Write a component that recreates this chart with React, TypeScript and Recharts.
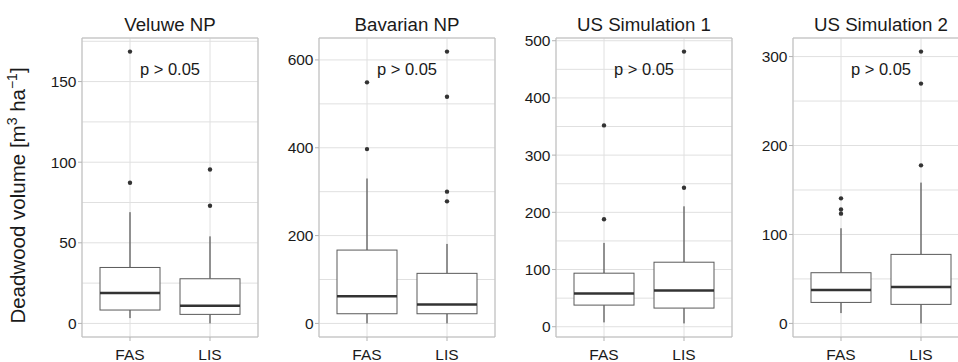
import React from 'react';
import { ComposedChart, Bar, Scatter, XAxis, YAxis, CartesianGrid, ReferenceArea } from 'recharts';

const groups = ['FAS', 'LIS'];
const panelTitles = ['Veluwe NP', 'Bavarian NP', 'US Simulation 1', 'US Simulation 2'];

// per group: [whiskerLow, q1, median, q3, whiskerHigh]
const veluweStats = [[3.3, 8.3, 18.8, 34.7, 69], [0, 5.6, 11, 27.7, 54]];
const veluweOutliers = [[168.6, 87.2], [95.5, 73]];
const bavarianStats = [[0, 22, 62, 167, 330], [0, 22, 43, 114, 181]];
const bavarianOutliers = [[549, 397], [619, 516, 300, 278]];
const us1Stats = [[7.6, 37.8, 58, 93.6, 146.5], [5.8, 32.6, 63.4, 112.8, 210.5]];
const us1Outliers = [[352, 188], [481, 243]];
const us2Stats = [[11.6, 23.6, 37.5, 57, 107], [0, 21.4, 40.8, 77.6, 158.3]];
const us2Outliers = [[140.6, 128, 123.4], [305.6, 269.6, 177.7]];

const majorTicks = [[0, 50, 100, 150], [0, 200, 400, 600], [0, 100, 200, 300, 400, 500], [0, 100, 200, 300]];
const minorTicks = [[25, 75, 125, 175], [100, 300, 500], [50, 150, 250, 350, 450], [50, 150, 250]];
const pLabel = 'p > 0.05';
const pLabelY = [158, 580, 451, 286.5];
const yTitle = 'Deadwood volume [m';

const allStats = [veluweStats, bavarianStats, us1Stats, us2Stats];
const allOutliers = [veluweOutliers, bavarianOutliers, us1Outliers, us2Outliers];

const FONT = '"Liberation Sans", Arial, Helvetica, sans-serif';
const PANEL_LEFT0 = 82;
const PANEL_STEP = 237;
const PANEL_W = 176;
const AXIS_W = 82;
const GRID = '#e0e0e0';
const BORDER = '#bdbdbd';
const TICKC = '#b3b3b3';
const TEXT = '#1a1a1a';

const BoxShape = (props: any) => {
  const { x, y, width, height, payload } = props;
  if (!payload) return <g />;
  const top = Math.min(y, y + height);
  const h = Math.abs(height);
  const k = h / (payload.whi - payload.wlo);
  const Y = (v: number) => top + (payload.whi - v) * k;
  const cx = x + width / 2;
  return (
    <g>
      <line x1={cx} x2={cx} y1={Y(payload.whi)} y2={Y(payload.q3)} stroke="#333" strokeWidth={1} />
      <line x1={cx} x2={cx} y1={Y(payload.q1)} y2={Y(payload.wlo)} stroke="#333" strokeWidth={1} />
      <rect x={x} y={Y(payload.q3)} width={width} height={Y(payload.q1) - Y(payload.q3)} fill="#fff" stroke="#5a5a5a" strokeWidth={1} />
      <line x1={x} x2={x + width} y1={Y(payload.med)} y2={Y(payload.med)} stroke="#333" strokeWidth={2.5} />
    </g>
  );
};

const DotShape = (props: any) => <circle cx={props.cx} cy={props.cy} r={2.2} fill="#333" />;

const TextShape = (props: any) => (
  <text x={props.cx} y={props.cy} dy="0.36em" textAnchor="middle" fontSize={16.5} fill={TEXT} fontFamily={FONT}>
    {props.payload.label}
  </text>
);

const makeYTick = (majors: number[]) => (props: any) => {
  const { x, y, payload } = props;
  if (!majors.includes(payload.value)) return <g />;
  return (
    <g>
      <line x1={x + 1.5} x2={x + 5.5} y1={y} y2={y} stroke={TICKC} />
      <text x={x} y={y} dy="0.355em" textAnchor="end" fontSize={15.5} fill={TEXT} fontFamily={FONT}>
        {payload.value}
      </text>
    </g>
  );
};

function Panel({ idx }: { idx: number }) {
  const stats = allStats[idx];
  const outliers = allOutliers[idx];
  const boxes = stats.map((s, i) => ({ g: i + 1, range: [s[0], s[4]], wlo: s[0], q1: s[1], med: s[2], q3: s[3], whi: s[4] }));
  const pts = outliers.flatMap((o, i) => o.map((v) => ({ g: i + 1, v })));
  const ann = [{ g: 1.5, v: pLabelY[idx], label: pLabel }];
  const vals = [...stats.flat(), ...outliers.flat()];
  const lo = Math.min(...vals);
  const hi = Math.max(...vals);
  const pad = (hi - lo) * 0.05;
  const domain: [number, number] = [lo - pad, hi + pad];
  const ticks = [...majorTicks[idx], ...minorTicks[idx]].filter((t) => t >= domain[0] && t <= domain[1]).sort((a, b) => a - b);
  const left = PANEL_LEFT0 + idx * PANEL_STEP - AXIS_W;
  return (
    <div style={{ position: 'absolute', left, top: 0 }}>
      <ComposedChart width={AXIS_W + PANEL_W + 1} height={362} data={boxes} margin={{ top: 38, right: 1, bottom: 0, left: 0 }}>
        <CartesianGrid stroke={GRID} strokeWidth={1} />
        <XAxis
          type="number"
          dataKey="g"
          domain={[0.4, 2.6]}
          ticks={[1, 2]}
          interval={0}
          allowDataOverflow
          height={25}
          axisLine={false}
          tickLine={{ stroke: TICKC }}
          tickSize={4}
          tickMargin={7.5}
          tick={{ fontSize: 15.5, fill: TEXT }}
          tickFormatter={(v: number) => groups[v - 1]}
        />
        <XAxis xAxisId="ann" type="number" dataKey="g" domain={[0.4, 2.6]} allowDataOverflow hide />
        <YAxis
          type="number"
          domain={domain}
          ticks={ticks}
          interval={0}
          allowDataOverflow
          width={AXIS_W}
          axisLine={false}
          tickLine={false}
          tickSize={4}
          tickMargin={1.5}
          tick={makeYTick(majorTicks[idx])}
        />
        <Bar dataKey="range" barSize={60} isAnimationActive={false} shape={BoxShape} />
        <Scatter data={pts} dataKey="v" isAnimationActive={false} shape={DotShape} />
        <Scatter xAxisId="ann" data={ann} dataKey="v" isAnimationActive={false} shape={TextShape} />
        <ReferenceArea x1={0.4} x2={2.6} y1={domain[0]} y2={domain[1]} fill="none" stroke={BORDER} strokeWidth={1} ifOverflow="visible" />
      </ComposedChart>
    </div>
  );
}

export default function App() {
  return (
    <div style={{ position: 'absolute', left: 0, top: 0, width: 958, height: 362, overflow: 'hidden', background: '#fff', fontFamily: FONT }}>
      {panelTitles.map((_, i) => (
        <Panel key={i} idx={i} />
      ))}
      <svg width={958} height={362} style={{ position: 'absolute', left: 0, top: 0, pointerEvents: 'none' }}>
        {panelTitles.map((t, i) => (
          <text key={t} x={PANEL_LEFT0 + i * PANEL_STEP + PANEL_W / 2} y={31} textAnchor="middle" fontSize={18.7} fill={TEXT} fontFamily={FONT}>
            {t}
          </text>
        ))}
        <text transform="rotate(-90, 24.5, 195.5)" x={24.5} y={195.5} textAnchor="middle" fontSize={20.5} fill={TEXT} fontFamily={FONT}>
          {yTitle}
          <tspan dy={-8} fontSize={14}>3</tspan>
          <tspan dy={8}> ha</tspan>
          <tspan dy={-8} fontSize={14}>−1</tspan>
          <tspan dy={8}>]</tspan>
        </text>
      </svg>
    </div>
  );
}
